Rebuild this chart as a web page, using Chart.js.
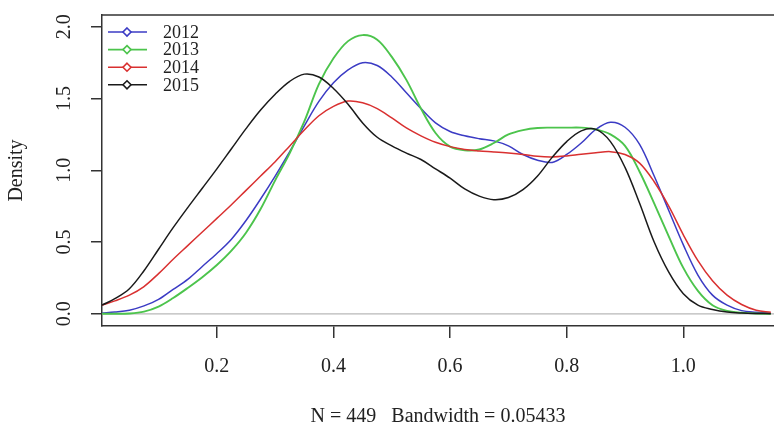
<!DOCTYPE html>
<html>
<head>
<meta charset="utf-8">
<title>Density 2012-2015</title>
<script src="https://cdn.jsdelivr.net/npm/chart.js@4.4.1/dist/chart.umd.min.js"></script>
<style>
  html, body { margin: 0; padding: 0; background: #fff; overflow: hidden; }
</style>
</head>
<body>
<canvas id="densityChart" width="774" height="425"></canvas>
<script>
// x positions where the density curves were read
const xGrid = [0.003, 0.025, 0.05, 0.075, 0.1, 0.125, 0.15, 0.175, 0.2, 0.225,
  0.25, 0.275, 0.3, 0.325, 0.35, 0.375, 0.4, 0.425, 0.45, 0.475,
  0.5, 0.525, 0.55, 0.575, 0.6, 0.625, 0.65, 0.675, 0.7, 0.725,
  0.75, 0.775, 0.8, 0.825, 0.85, 0.875, 0.9, 0.925, 0.95, 0.975,
  1.0, 1.025, 1.05, 1.075, 1.1, 1.125, 1.15];

const density2012 = [0.005, 0.012, 0.025, 0.055, 0.10, 0.17, 0.24, 0.33, 0.42, 0.52,
  0.65, 0.80, 0.96, 1.13, 1.31, 1.48, 1.61, 1.70, 1.75, 1.73,
  1.65, 1.54, 1.43, 1.33, 1.27, 1.24, 1.22, 1.205, 1.17, 1.11,
  1.07, 1.055, 1.11, 1.19, 1.285, 1.335, 1.30, 1.18, 0.96, 0.72,
  0.48, 0.27, 0.13, 0.06, 0.022, 0.01, 0.003];

const density2013 = [0.0, 0.0, 0.002, 0.015, 0.05, 0.11, 0.18, 0.255, 0.34, 0.44,
  0.565, 0.73, 0.93, 1.12, 1.34, 1.60, 1.78, 1.90, 1.942, 1.91,
  1.79, 1.63, 1.43, 1.26, 1.165, 1.14, 1.145, 1.19, 1.25, 1.28,
  1.295, 1.297, 1.297, 1.297, 1.285, 1.25, 1.17, 0.99, 0.77, 0.54,
  0.32, 0.16, 0.06, 0.02, 0.008, 0.002, 0.0];

const density2014 = [0.06, 0.09, 0.13, 0.19, 0.28, 0.38, 0.475, 0.57, 0.665, 0.76,
  0.86, 0.96, 1.06, 1.17, 1.28, 1.38, 1.445, 1.482, 1.47, 1.43,
  1.365, 1.295, 1.24, 1.195, 1.165, 1.145, 1.135, 1.128, 1.12, 1.11,
  1.097, 1.093, 1.10, 1.112, 1.122, 1.13, 1.11, 1.05, 0.92, 0.75,
  0.55, 0.37, 0.23, 0.13, 0.065, 0.025, 0.01];

const density2015 = [0.06, 0.105, 0.175, 0.30, 0.45, 0.60, 0.74, 0.875, 1.01, 1.15,
  1.29, 1.42, 1.53, 1.62, 1.67, 1.65, 1.57, 1.46, 1.33, 1.23,
  1.17, 1.12, 1.075, 1.01, 0.945, 0.87, 0.82, 0.795, 0.81, 0.865,
  0.96, 1.09, 1.20, 1.275, 1.285, 1.20, 1.02, 0.77, 0.50, 0.29,
  0.14, 0.06, 0.03, 0.012, 0.005, 0.002, 0.001];

const seriesLabels = ['2012', '2013', '2014', '2015'];
const seriesColors = ['#3b3bc4', '#4cc44c', '#d93030', '#1a1a1a'];
const xTicks = [0.2, 0.4, 0.6, 0.8, 1.0];
const yTicks = [0.0, 0.5, 1.0, 1.5, 2.0];

const SERIF = "'Liberation Serif', 'Times New Roman', serif";
const INK = '#222';

// R-style extras: zero line, top frame edge, rotated y labels, legend
const rStyle = {
  id: 'rStyle',
  beforeDatasetsDraw(chart) {
    const { ctx, chartArea: a, scales: { y } } = chart;
    const y0 = y.getPixelForValue(0);
    ctx.save();
    ctx.strokeStyle = '#b8b8b8';
    ctx.lineWidth = 1.2;
    ctx.beginPath();
    ctx.moveTo(a.left, y0);
    ctx.lineTo(a.right, y0);
    ctx.stroke();
    ctx.restore();
  },
  afterDraw(chart) {
    const { ctx, chartArea: a, scales: { y } } = chart;
    ctx.save();
    ctx.strokeStyle = '#333';
    ctx.lineWidth = 1.5;
    ctx.beginPath();
    ctx.moveTo(a.left, a.top);
    ctx.lineTo(a.right, a.top);
    ctx.stroke();

    ctx.fillStyle = INK;
    ctx.textAlign = 'center';
    ctx.textBaseline = 'middle';
    ctx.font = '20px ' + SERIF;
    yTicks.forEach(v => {
      ctx.save();
      ctx.translate(65, y.getPixelForValue(v));
      ctx.rotate(-Math.PI / 2);
      ctx.fillText(v.toFixed(1), 0, 0);
      ctx.restore();
    });
    ctx.save();
    ctx.translate(17, (a.top + a.bottom) / 2);
    ctx.rotate(-Math.PI / 2);
    ctx.fillText('Density', 0, 0);
    ctx.restore();

    // legend, top-left inside the frame
    ctx.font = '18px ' + SERIF;
    ctx.textAlign = 'left';
    seriesLabels.forEach((label, i) => {
      const ly = 32 + i * 17.6;
      ctx.strokeStyle = seriesColors[i];
      ctx.lineWidth = 1.6;
      ctx.beginPath();
      ctx.moveTo(108, ly);
      ctx.lineTo(147, ly);
      ctx.stroke();
      ctx.beginPath();
      ctx.moveTo(127, ly - 4);
      ctx.lineTo(131, ly);
      ctx.lineTo(127, ly + 4);
      ctx.lineTo(123, ly);
      ctx.closePath();
      ctx.fillStyle = '#fff';
      ctx.fill();
      ctx.stroke();
      ctx.fillStyle = INK;
      ctx.fillText(label, 163, ly + 1);
    });
    ctx.restore();
  }
};

const allSeries = [density2012, density2013, density2014, density2015];

new Chart(document.getElementById('densityChart'), {
  type: 'line',
  data: {
    datasets: allSeries.map((vals, i) => ({
      label: seriesLabels[i],
      data: xGrid.map((x, j) => ({ x: x, y: vals[j] })),
      borderColor: seriesColors[i],
      borderWidth: i === 1 ? 1.9 : 1.5,
      pointRadius: 0,
      tension: 0.35,
      fill: false,
      order: 3 - i
    }))
  },
  options: {
    responsive: false,
    animation: false,
    layout: { padding: { top: 13, left: 0, right: 0, bottom: 0 } },
    plugins: { legend: { display: false }, tooltip: { enabled: false } },
    scales: {
      x: {
        type: 'linear',
        min: 0.003,
        max: 1.1555,
        afterBuildTicks: s => { s.ticks = xTicks.map(v => ({ value: v })); },
        afterFit: s => { s.height = 99; },
        grid: { drawOnChartArea: false, drawTicks: true, tickLength: 12, color: '#333', lineWidth: 1.5 },
        border: { display: true, color: '#333', width: 1.5 },
        ticks: {
          color: INK,
          font: { family: SERIF, size: 20 },
          padding: 17,
          maxRotation: 0,
          autoSkip: false,
          callback: v => v.toFixed(1)
        },
        title: {
          display: true,
          text: 'N = 449   Bandwidth = 0.05433',
          color: INK,
          font: { family: SERIF, size: 20, lineHeight: 0.8 },
          padding: 0
        }
      },
      y: {
        type: 'linear',
        min: -0.085,
        max: 2.082,
        afterBuildTicks: s => { s.ticks = yTicks.map(v => ({ value: v })); },
        afterFit: s => { s.width = 102; },
        grid: { drawOnChartArea: false, drawTicks: true, tickLength: 11, color: '#333', lineWidth: 1.5 },
        border: { display: true, color: '#333', width: 1.5 },
        ticks: { color: 'rgba(0,0,0,0)', font: { size: 20 } }
      }
    }
  },
  plugins: [rStyle]
});
</script>
</body>
</html>
